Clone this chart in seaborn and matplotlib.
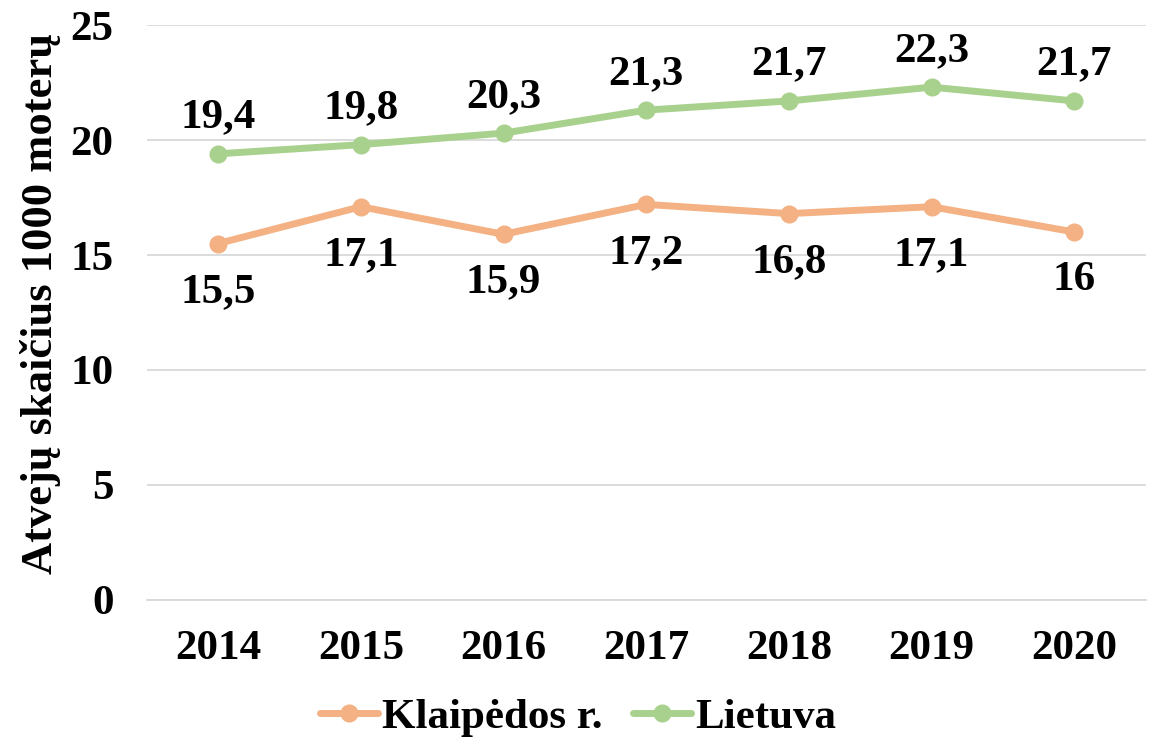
import matplotlib
matplotlib.use("Agg")
import matplotlib.pyplot as plt
import pandas as pd
import seaborn as sns

years = [2014, 2015, 2016, 2017, 2018, 2019, 2020]
klaipeda = [15.5, 17.1, 15.9, 17.2, 16.8, 17.1, 16.0]
lietuva = [19.4, 19.8, 20.3, 21.3, 21.7, 22.3, 21.7]
series_names = ["Klaipėdos r.", "Lietuva"]
colors = ["#F4B183", "#A9D18E"]
y_ticks = [0, 5, 10, 15, 20, 25]

df = pd.DataFrame({
    "metai": years * 2,
    "reiksme": klaipeda + lietuva,
    "serija": [series_names[0]] * len(years) + [series_names[1]] * len(years),
})

sns.set_style("white")
plt.rcParams["font.family"] = ["Liberation Serif", "DejaVu Serif"]
plt.rcParams["font.weight"] = "bold"
plt.rcParams["text.color"] = "black"
plt.rcParams["xtick.color"] = "black"
plt.rcParams["ytick.color"] = "black"
plt.rcParams["axes.labelcolor"] = "black"

FS = 31

fig = plt.figure(figsize=(11.56, 7.37), dpi=100)
ax = fig.add_axes([0.127, 0.186, 0.864, 0.780])

sns.lineplot(data=df, x="metai", y="reiksme", hue="serija", palette=colors,
             marker="o", markersize=13, markeredgewidth=0, linewidth=5,
             ax=ax, legend=True)

ax.set_xlim(years[0] - 0.5, years[-1] + 0.5)
ax.set_ylim(0, 25)
ax.set_yticks(y_ticks)
ax.set_xticks(years)
ax.set_xticklabels([str(y) for y in years])
ax.tick_params(axis="both", length=0, labelsize=FS, labelcolor="black")
ax.tick_params(axis="x", pad=22)
ax.tick_params(axis="y", pad=24)
for lab in ax.get_xticklabels() + ax.get_yticklabels():
    lab.set_fontweight("bold")

ax.grid(axis="y", color="#d9d9d9", linewidth=1.3)
ax.set_axisbelow(True)
for s in ["left", "right", "top"]:
    ax.spines[s].set_visible(False)
ax.spines["bottom"].set_color("#d9d9d9")
ax.spines["bottom"].set_linewidth(1.3)

ax.set_xlabel("")
ax.set_ylabel("Atvejų skaičius 1000 moterų", fontsize=32, fontweight="bold",
              color="black")
ax.yaxis.set_label_coords(-0.086, 0.515)

def fmt(v):
    return str(int(v)) if v == int(v) else f"{v:.1f}".replace(".", ",")

for x, v in zip(years, lietuva):
    ax.annotate(fmt(v), (x, v), xytext=(0, 19), textcoords="offset points",
                ha="center", va="baseline", fontsize=FS, fontweight="bold")
for x, v in zip(years, klaipeda):
    ax.annotate(fmt(v), (x, v), xytext=(0, -42), textcoords="offset points",
                ha="center", va="baseline", fontsize=FS, fontweight="bold")

handles, labels = ax.get_legend_handles_labels()
ax.get_legend().remove()
fig.legend(handles, labels, loc="center", bbox_to_anchor=(0.5, 0.026), ncol=2,
           frameon=False, prop={"size": FS, "weight": "bold"},
           handlelength=1.35, handletextpad=0.1, columnspacing=0.7)

fig.savefig("out.png", dpi=100)
